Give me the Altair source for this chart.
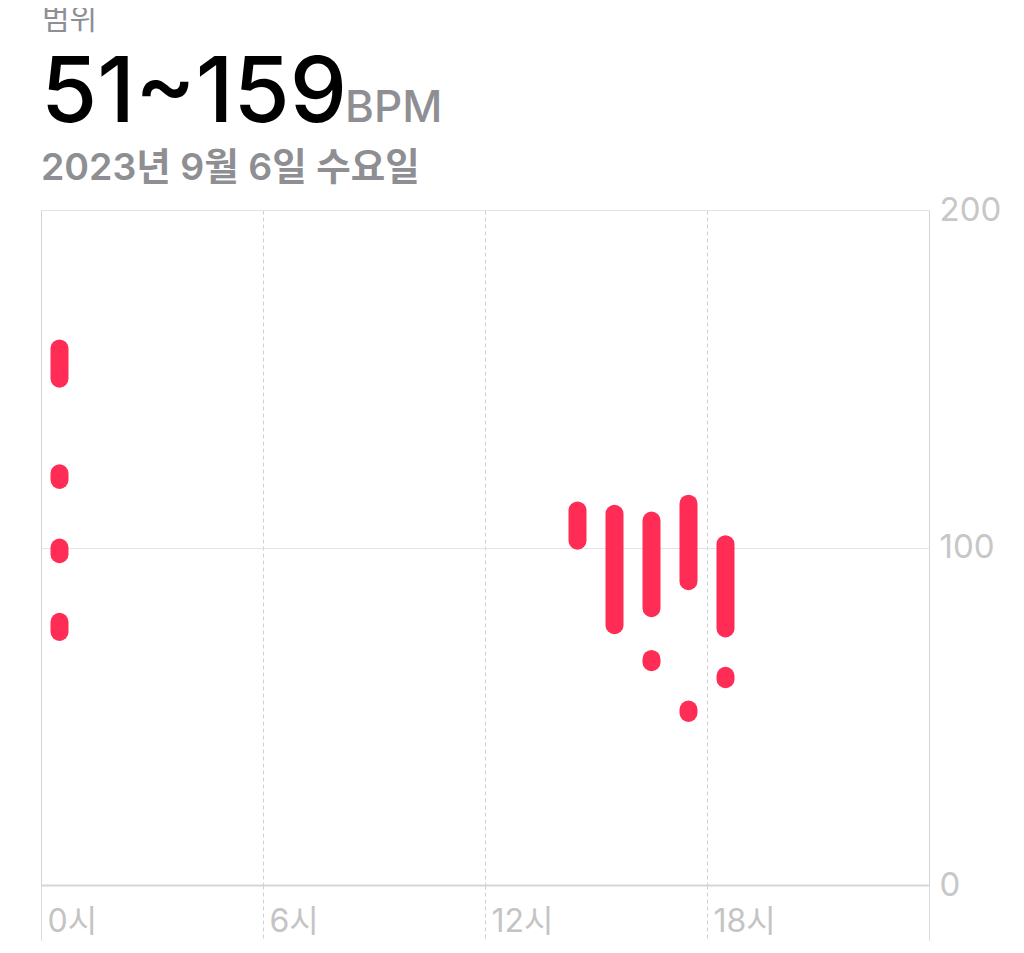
import altair as alt
import pandas as pd

# data
hours = [0, 0, 0, 0, 14, 15, 16, 16, 17, 17, 18, 18]
lows = [150, 120, 98, 75, 102, 77, 82, 66, 90, 51, 76, 61]
highs = [159, 122, 100, 78, 111, 110, 108, 67, 113, 52, 101, 62]
x_ticks = [0, 6, 12, 18, 24]
y_ticks = [0, 100, 200]

label_top = "범위"
range_text = "51~159"
unit_text = "BPM"
date_text = "2023년 9월 6일 수요일"

df = pd.DataFrame({"hour": [h + 0.5 for h in hours], "low": lows, "high": highs})

RED = "#FF2D55"
GRAY_T = "#8e8e93"

x_axis = alt.Axis(
    orient="bottom",
    values=x_ticks,
    title=None,
    grid=True,
    gridColor="#d0d0d0",
    gridWidth=1,
    gridDash=alt.condition("datum.value == 0 || datum.value == 24", alt.value([1, 0]), alt.value([4, 3])),
    ticks=True,
    tickSize=55,
    tickColor="#d0d0d0",
    tickWidth=1,
    tickDash=alt.condition("datum.value == 0 || datum.value == 24", alt.value([1, 0]), alt.value([4, 3])),
    domain=True,
    domainColor="#d6d6d6",
    domainWidth=2,
    labelExpr="datum.value == 24 ? '' : datum.value + '시'",
    labelAlign="left",
    labelBaseline="middle",
    labelPadding=-19,
    labelOffset=6,
    labelFont="Inter, Noto Sans CJK KR",
    labelFontSize=32,
    labelColor="#c4c4c4",
    labelFlush=False,
    labelOverlap=False,
)

y_axis = alt.Axis(
    orient="right",
    values=y_ticks,
    title=None,
    grid=True,
    gridColor="#e3e3e3",
    gridWidth=1,
    ticks=False,
    domain=False,
    labelPadding=10,
    labelFont="Inter",
    labelFontSize=33,
    labelColor="#c7c7c7",
    labelBaseline="middle",
    labelFlush=False,
)

bars = alt.Chart(df).mark_rule(color=RED, strokeWidth=18, strokeCap="round").encode(
    x=alt.X("hour:Q", scale=alt.Scale(domain=[0, 24], nice=False, zero=False), axis=x_axis),
    y=alt.Y("low:Q", scale=alt.Scale(domain=[0, 200], nice=False), axis=y_axis),
    y2="high:Q",
)

base_txt = alt.Chart(pd.DataFrame({"a": [0]}))

t1 = base_txt.mark_text(text=label_top, font="Noto Sans CJK KR", fontSize=30, color=GRAY_T,
                        align="left", baseline="alphabetic").encode(x=alt.value(1), y=alt.value(-181))
t2 = base_txt.mark_text(text=range_text, font="Inter", fontSize=91, fontWeight=500, color="#000000",
                        align="left", baseline="alphabetic").encode(x=alt.value(0), y=alt.value(-88))
t3 = base_txt.mark_text(text=unit_text, font="Inter", fontSize=44, fontWeight=500, color=GRAY_T,
                        align="left", baseline="alphabetic").encode(x=alt.value(304), y=alt.value(-88))
t4 = base_txt.mark_text(text=date_text, font="Inter, Noto Sans CJK KR", fontSize=37.5, fontWeight=600,
                        color=GRAY_T, align="left", baseline="alphabetic").encode(x=alt.value(0), y=alt.value(-30))

chart = alt.layer(bars, t1, t2, t3, t4).properties(
    width=888,
    height=675,
    padding={"left": 33, "top": 202, "right": 87, "bottom": 60},
    autosize=alt.AutoSizeParams(type="none"),
).configure_view(stroke=None).configure(background="white")

chart.save("out.html", embed_options={"renderer": "svg", "actions": False})
